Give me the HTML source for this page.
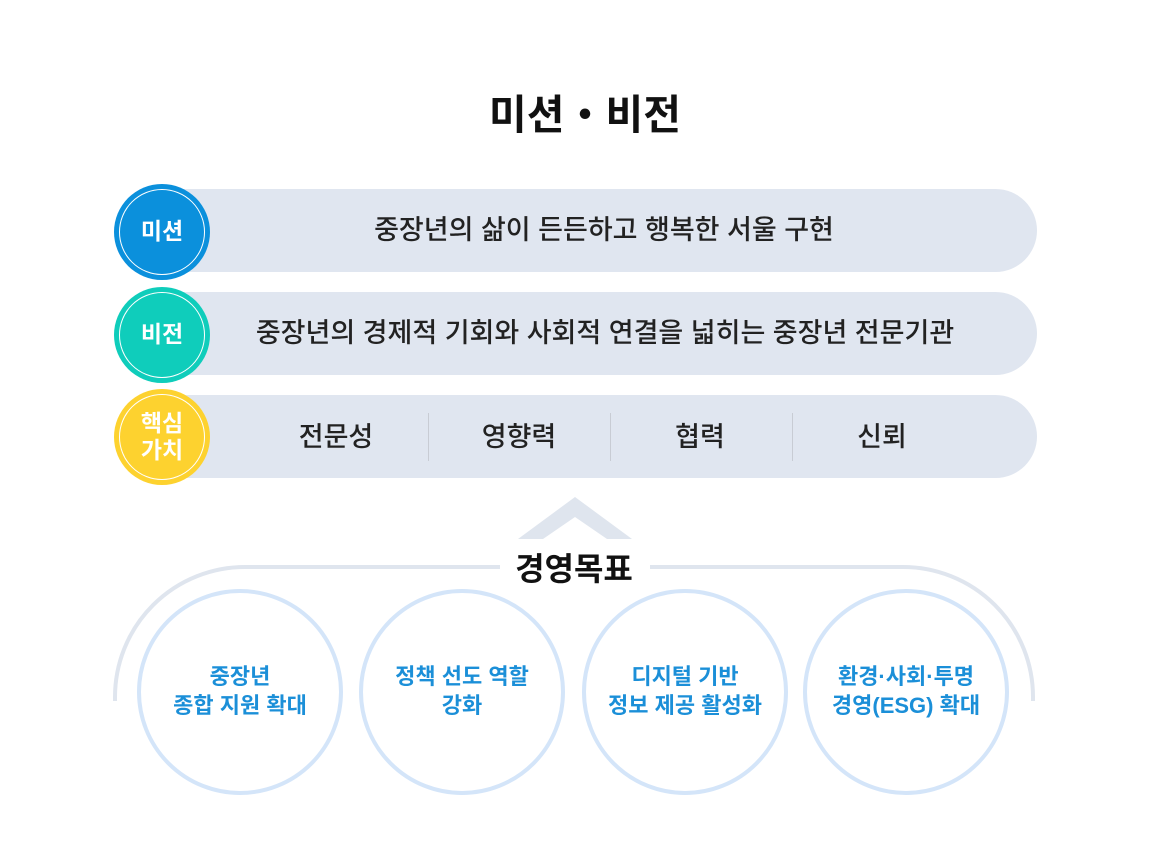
<!DOCTYPE html>
<html><head><meta charset="utf-8"><style>
body{margin:0;width:1170px;height:860px;background:#fff;font-family:"Liberation Sans","Noto Sans CJK KR",sans-serif;position:relative;overflow:hidden}
.t{position:absolute;white-space:nowrap;text-align:center}
.bar{position:absolute;left:165px;width:872px;height:83px;background:#e0e6f0;border-radius:0 42px 42px 0}
.c{position:absolute;left:114px;width:96px;height:96px;border-radius:50%}
.c i{position:absolute;left:5px;top:5px;width:84px;height:84px;border:1.5px solid #fff;border-radius:50%}
.c b{position:absolute;left:0;width:96px;text-align:center;color:#fff;font-size:23px;font-weight:bold;line-height:27px}
.bt{position:absolute;left:169px;width:872px;text-align:center;font-size:27px;font-weight:500;color:#222;line-height:83px;white-space:nowrap}
.sep{position:absolute;top:413px;width:1px;height:48px;background:#c8ccd4}
.cv{position:absolute;top:419px;width:140px;text-align:center;font-size:27px;font-weight:500;color:#222;line-height:36px}
.g{position:absolute;font-size:22px;font-weight:bold;color:#1b8fd8;line-height:29px;text-align:center;width:220px;white-space:nowrap}
</style></head><body>
<div class="t" style="left:0;width:1170px;top:87px;font-size:41px;font-weight:bold;color:#111;line-height:56px">미션・비전</div>

<div class="bar" style="top:189px"></div>
<div class="bar" style="top:292px"></div>
<div class="bar" style="top:395px"></div>
<div class="bt" style="top:189px;left:168px">중장년의 삶이 든든하고 행복한 서울 구현</div>
<div class="bt" style="top:292px;left:169px">중장년의 경제적 기회와 사회적 연결을 넓히는 중장년 전문기관</div>
<div class="sep" style="left:428px"></div><div class="sep" style="left:610px"></div><div class="sep" style="left:792px"></div>
<div class="cv" style="left:266px">전문성</div>
<div class="cv" style="left:449px">영향력</div>
<div class="cv" style="left:630px">협력</div>
<div class="cv" style="left:812px">신뢰</div>

<div class="c" style="top:184px;background:#0b90dc"><i></i><b style="top:34px">미션</b></div>
<div class="c" style="top:287px;background:#0fcdbb"><i></i><b style="top:34px">비전</b></div>
<div class="c" style="top:389px;background:#fdd22f"><i></i><b style="top:21px">핵심<br>가치</b></div>

<svg style="position:absolute;left:0;top:0" width="1170" height="860">
<polygon points="518,539 575,497 632,539 607,539 575,517 543,539" fill="#dfe5ee"/>
<path d="M115,701 L115,697 A130,130 0 0 1 245,567 L500,567" fill="none" stroke="#dfe5ee" stroke-width="4"/>
<path d="M1033,701 L1033,697 A130,130 0 0 0 903,567 L650,567" fill="none" stroke="#dfe5ee" stroke-width="4"/>
<circle cx="240" cy="692" r="101" fill="none" stroke="#d4e5f9" stroke-width="4"/>
<circle cx="462" cy="692" r="101" fill="none" stroke="#d4e5f9" stroke-width="4"/>
<circle cx="685" cy="692" r="101" fill="none" stroke="#d4e5f9" stroke-width="4"/>
<circle cx="906" cy="692" r="101" fill="none" stroke="#d4e5f9" stroke-width="4"/>
</svg>
<div class="t" style="left:464px;width:220px;top:549px;font-size:32px;font-weight:bold;color:#111;line-height:40px">경영목표</div>

<div class="g" style="left:130px;top:662px">중장년<br>종합 지원 확대</div>
<div class="g" style="left:352px;top:662px">정책 선도 역할<br>강화</div>
<div class="g" style="left:575px;top:662px">디지털 기반<br>정보 제공 활성화</div>
<div class="g" style="left:796px;top:662px">환경·사회·투명<br>경영(ESG) 확대</div>
</body></html>
